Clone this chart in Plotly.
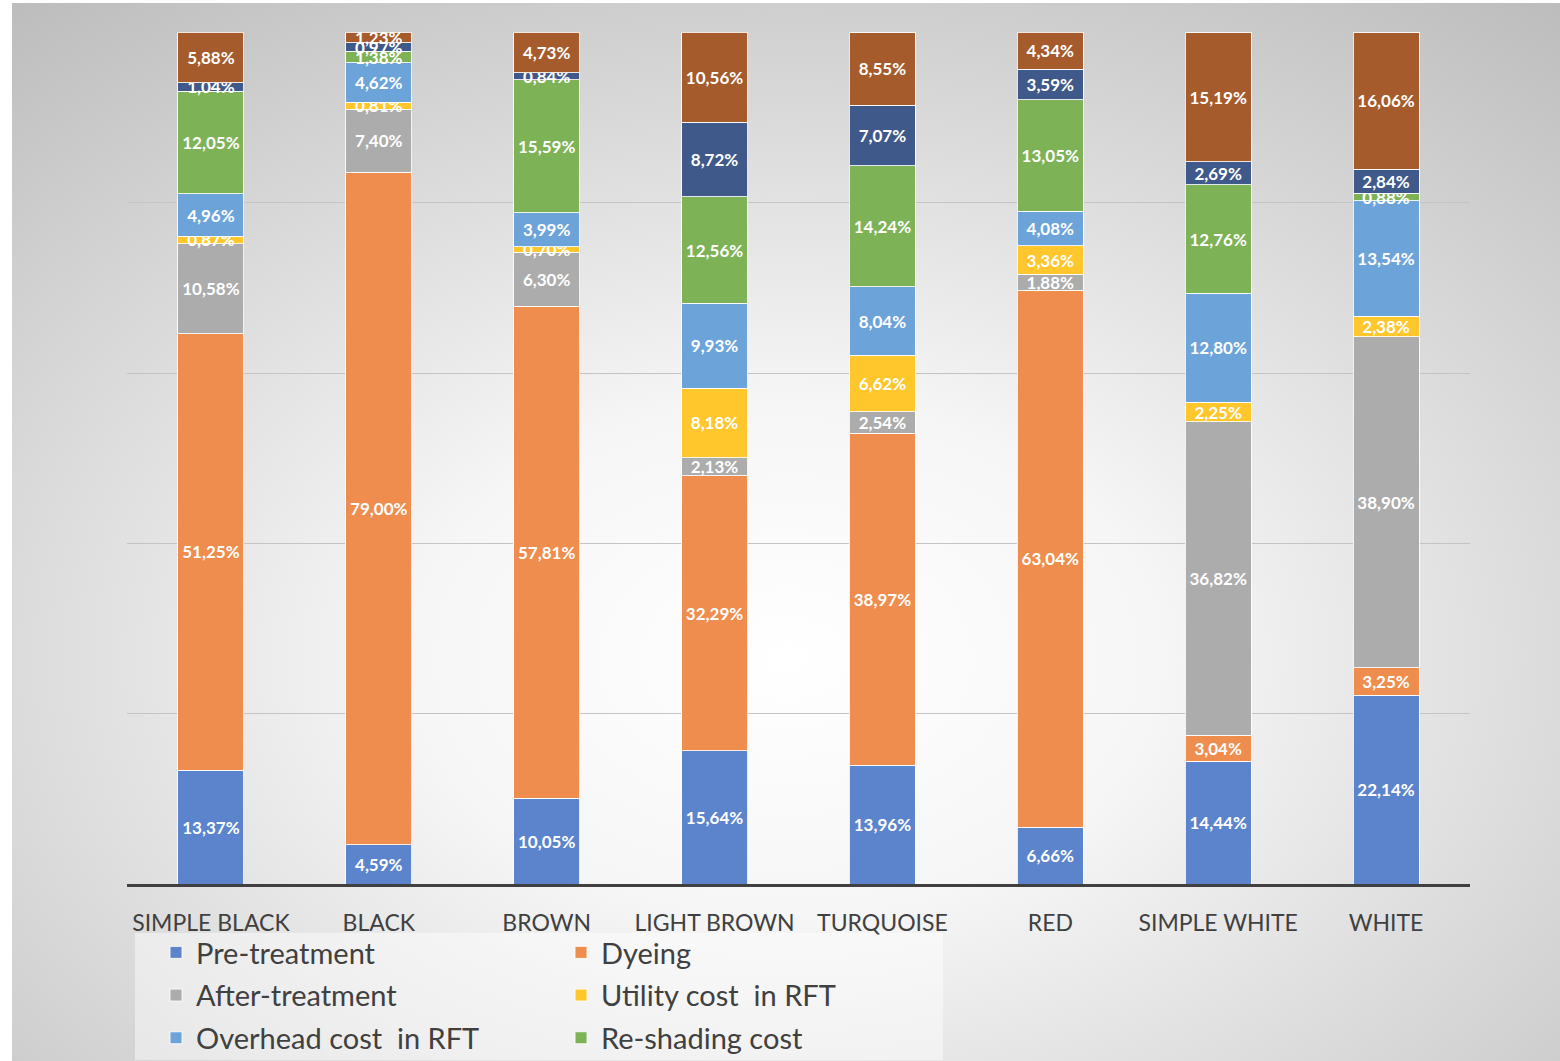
import base64
import plotly.graph_objects as go

categories = ["SIMPLE BLACK", "BLACK", "BROWN", "LIGHT BROWN", "TURQUOISE", "RED", "SIMPLE WHITE", "WHITE"]

pre_treatment = [13.37, 4.59, 10.05, 15.64, 13.96, 6.66, 14.44, 22.14]
dyeing = [51.25, 79.00, 57.81, 32.29, 38.97, 63.04, 3.04, 3.25]
after_treatment = [10.58, 7.40, 6.30, 2.13, 2.54, 1.88, 36.82, 38.90]
utility_rft = [0.87, 0.81, 0.70, 8.18, 6.62, 3.36, 2.25, 2.38]
overhead_rft = [4.96, 4.62, 3.99, 9.93, 8.04, 4.08, 12.80, 13.54]
reshading = [12.05, 1.38, 15.59, 12.56, 14.24, 13.05, 12.76, 0.88]
utility_rework = [1.04, 0.97, 0.84, 8.72, 7.07, 3.59, 2.69, 2.84]
overhead_rework = [5.88, 1.23, 4.73, 10.56, 8.55, 4.34, 15.19, 16.06]

series = [
    ("Pre-treatment", pre_treatment, "#5B84CC", "legend", True),
    ("Dyeing", dyeing, "#EE8D4D", "legend2", True),
    ("After-treatment", after_treatment, "#ACACAC", "legend", True),
    ("Utility cost  in RFT", utility_rft, "#FFC72C", "legend2", True),
    ("Overhead cost  in RFT", overhead_rft, "#6CA4DA", "legend", True),
    ("Re-shading cost", reshading, "#7DB257", "legend2", True),
    ("Utility cost in rework", utility_rework, "#3F5A8A", "legend", False),
    ("Overhead cost in rework", overhead_rework, "#A55B2B", "legend2", False),
]

W, H = 1560, 1061
L, R, T, B = 127, 90, 32, 177
PW, PH = W - L - R, H - T - B


def px_x(p):
    return (p - L) / PW


def px_y(p):
    return (H - B - p) / PH


fig = go.Figure()
for i, (name, vals, color, leg, show) in enumerate(series):
    fig.add_trace(go.Bar(
        x=categories, y=vals, name=name,
        marker=dict(color=color, line=dict(color="rgba(255,255,255,0.85)", width=1)),
        text=[f"{v:.2f}".replace(".", ",") + "%" for v in vals],
        textposition="inside", insidetextanchor="middle", textangle=0,
        constraintext="none",
        textfont=dict(family="Lato", size=17, color="white", weight="bold"),
        legend=leg, showlegend=show, legendgroup=f"g{i}",
        cliponaxis=False,
    ))

svg = ('<svg xmlns="http://www.w3.org/2000/svg" width="1548" height="1058">'
       '<defs><radialGradient id="g" cx="50%" cy="62%" r="80%">'
       '<stop offset="0" stop-color="#ffffff"/>'
       '<stop offset="0.3" stop-color="#f6f6f6"/>'
       '<stop offset="1" stop-color="#bcbcbc"/>'
       '</radialGradient></defs>'
       '<rect width="100%" height="100%" fill="url(#g)"/></svg>')
src = "data:image/svg+xml;base64," + base64.b64encode(svg.encode()).decode()

legend_common = dict(
    orientation="v", xanchor="left", yanchor="top",
    font=dict(family="Lato", size=29, color="#404040"),
    bgcolor="rgba(0,0,0,0)", traceorder="grouped", tracegroupgap=2,
)

fig.update_layout(
    width=W, height=H, autosize=False,
    margin=dict(l=L, r=R, t=T, b=B, autoexpand=False),
    paper_bgcolor="white", plot_bgcolor="rgba(0,0,0,0)",
    barmode="stack", bargap=0.607,
    uniformtext=dict(minsize=17, mode="show"),
    font=dict(family="Lato", color="#404040"),
    xaxis=dict(
        showline=True, linecolor="#404040", linewidth=3, ticks="",
        tickfont=dict(family="Lato", size=23, color="#404040"),
        ticklabelstandoff=16, showgrid=False,
    ),
    yaxis=dict(
        range=[0, 100.05], showticklabels=False, ticks="", tick0=0, dtick=20,
        showgrid=True, gridcolor="#c4c4c4", gridwidth=1, zeroline=False,
    ),
    legend=dict(x=px_x(156), y=px_y(927), **legend_common),
    legend2=dict(x=px_x(561), y=px_y(927), **legend_common),
    images=[dict(
        source=src, xref="paper", yref="paper",
        x=px_x(12), y=px_y(3), sizex=(W - 12) / PW, sizey=(H - 3) / PH,
        xanchor="left", yanchor="top", sizing="stretch", layer="below",
    )],
    shapes=[dict(
        type="rect", xref="paper", yref="paper",
        x0=px_x(135), x1=px_x(943), y0=px_y(1060), y1=px_y(933),
        fillcolor="rgba(255,255,255,0.45)", line=dict(width=0), layer="below",
    )],
)

fig.write_html(
    "out.html",
    config={"responsive": False, "displayModeBar": False},
    post_script="document.body.style.margin='0';",
)
